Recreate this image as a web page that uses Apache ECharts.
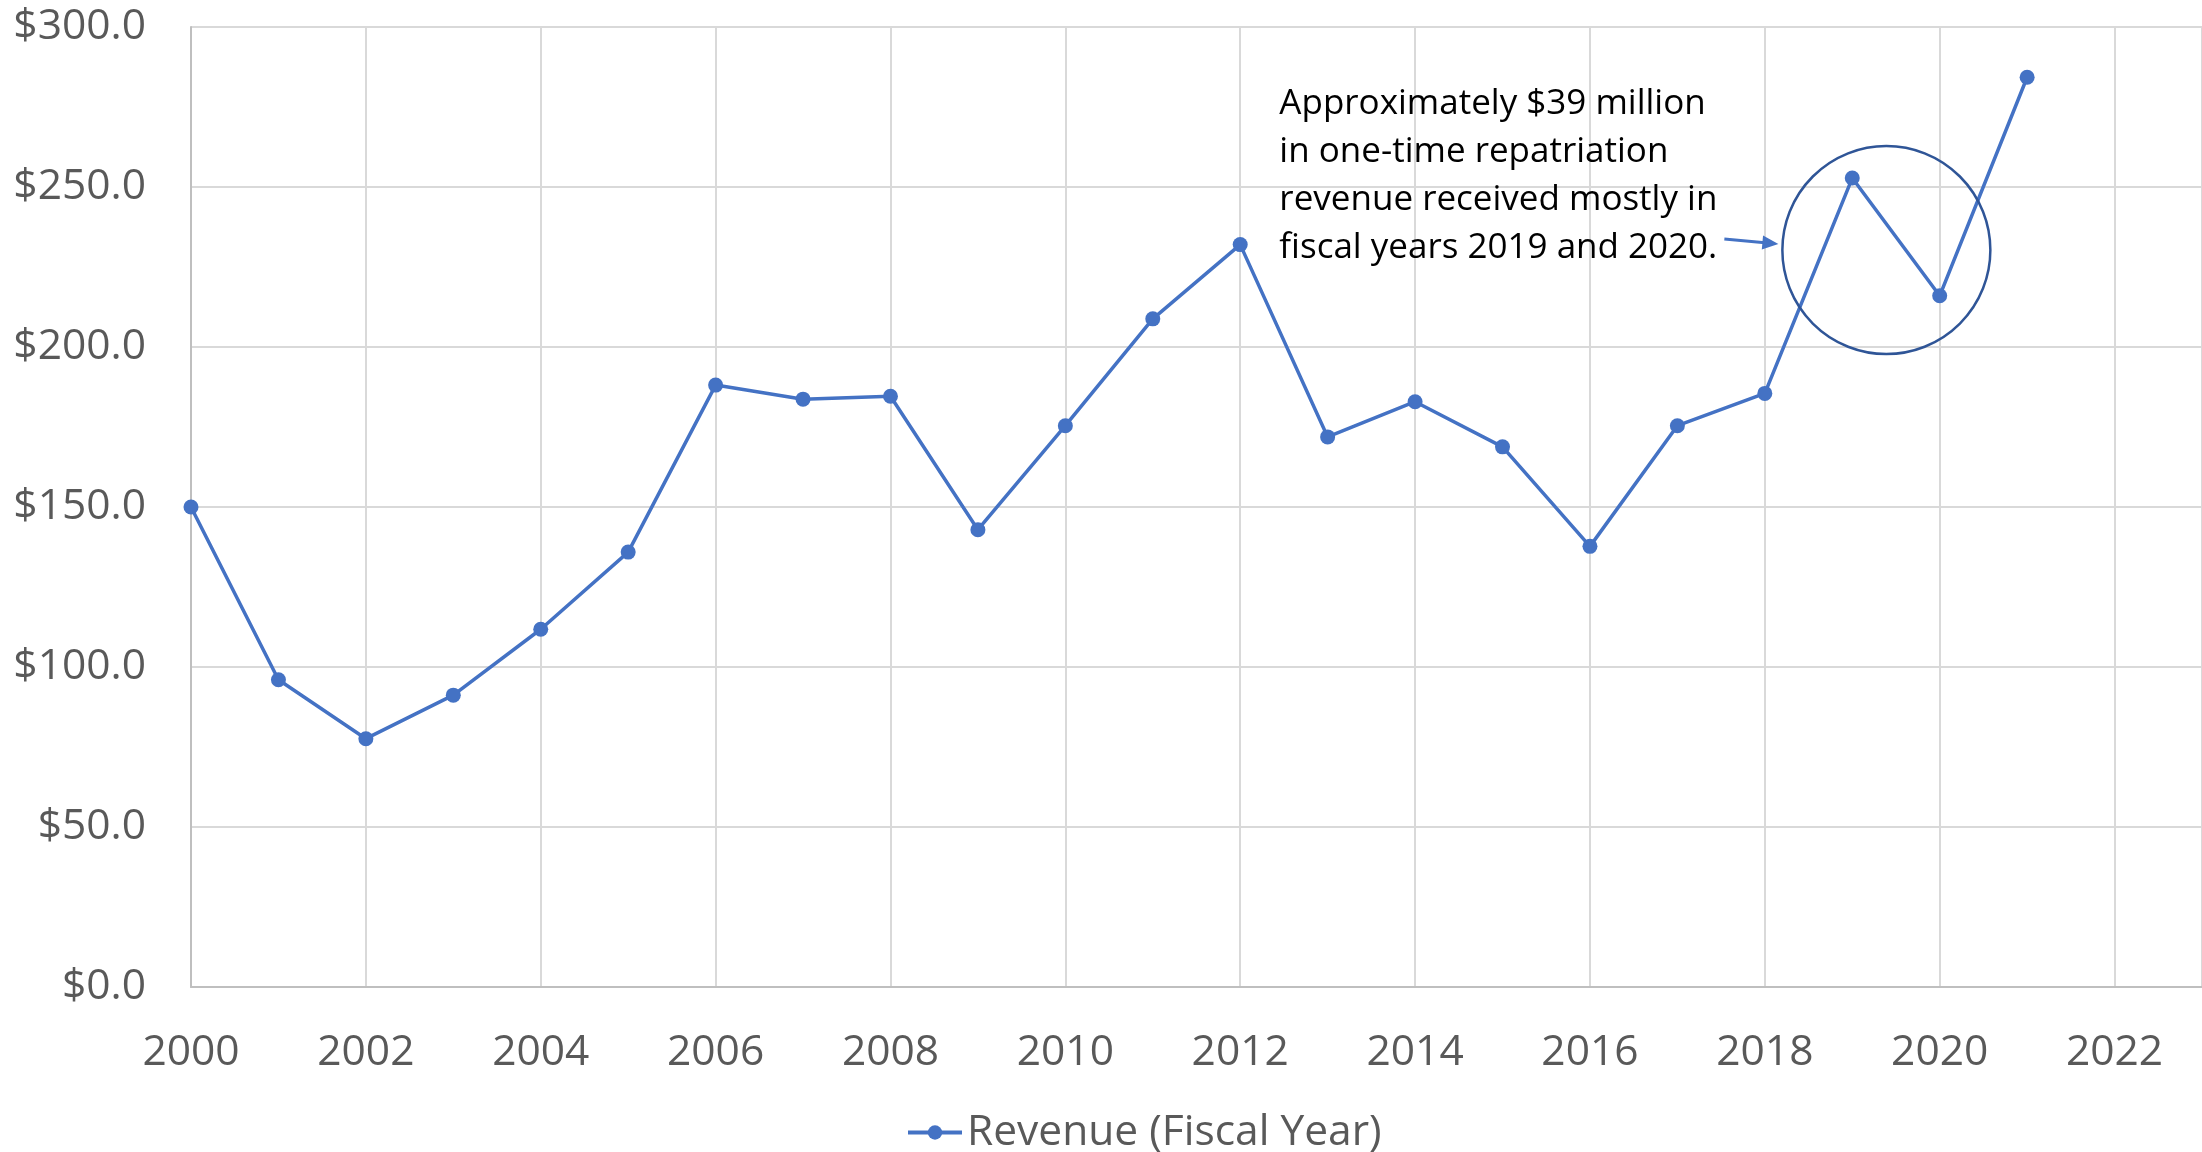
<!DOCTYPE html>
<html>
<head>
<meta charset="utf-8">
<script src="https://cdn.jsdelivr.net/npm/echarts@6/dist/echarts.min.js"></script>
<style>
  html, body { margin: 0; padding: 0; background: #fff; }
  #main { width: 2202px; height: 1152px; }
</style>
</head>
<body>
<div id="main"></div>
<script>
// fiscal years and revenue ($ millions)
var years = [2000, 2001, 2002, 2003, 2004, 2005, 2006, 2007, 2008, 2009, 2010,
             2011, 2012, 2013, 2014, 2015, 2016, 2017, 2018, 2019, 2020, 2021];
var revenue = [150.0, 96.0, 77.6, 91.2, 111.8, 135.9, 188.1, 183.7, 184.6, 142.9, 175.4,
               208.8, 232.0, 171.9, 182.9, 168.8, 137.7, 175.4, 185.5, 252.8, 216.0, 284.3];
var seriesName = 'Revenue (Fiscal Year)';
var noteLines = [
  'Approximately $39 million',
  'in one-time repatriation',
  'revenue received mostly in',
  'fiscal years 2019 and 2020.'
];

var FONT = '"Open Sans", "Noto Sans", sans-serif';
var GREY = '#595959';
var BLUE = '#4472C4';

var chart = echarts.init(document.getElementById('main'));

var pts = [];
for (var i = 0; i < years.length; i++) {
  pts.push([years[i], revenue[i]]);
}

var option = {
  animation: false,
  backgroundColor: '#fff',
  grid: { left: 191, right: -2, top: 27, bottom: 165, containLabel: false },
  xAxis: {
    type: 'value',
    min: 2000,
    max: 2023,
    interval: 2,
    axisLine: { show: true, lineStyle: { color: '#BFBFBF', width: 2 } },
    axisTick: { show: false },
    axisLabel: {
      color: GREY, fontSize: 42.5, fontFamily: FONT, margin: 44,
      showMaxLabel: false,
      formatter: function (v) { return v % 2 === 0 ? String(v) : ''; }
    },
    splitLine: { show: true, lineStyle: { color: '#D9D9D9', width: 2 } }
  },
  yAxis: {
    type: 'value',
    min: 0,
    max: 300,
    interval: 50,
    axisLine: { show: true, lineStyle: { color: '#BFBFBF', width: 2 } },
    axisTick: { show: false },
    axisLabel: {
      color: GREY, fontSize: 42.5, fontFamily: FONT, margin: 45,
      formatter: function (v) { return '$' + v.toFixed(1); }
    },
    splitLine: { show: true, lineStyle: { color: '#D9D9D9', width: 2 } }
  },
  legend: {
    top: 1111,
    left: 906,
    padding: 0,
    itemWidth: 54,
    itemHeight: 18,
    itemGap: 10,
    lineStyle: { width: 4 },
    textStyle: { color: GREY, fontSize: 42.5, fontFamily: FONT },
    data: [seriesName]
  },
  series: [{
    name: seriesName,
    type: 'line',
    data: pts,
    symbol: 'circle',
    symbolSize: 15,
    lineStyle: { color: BLUE, width: 3.5 },
    itemStyle: { color: BLUE }
  }]
};

chart.setOption(option);

// annotation: circle around the 2019/2020 points, arrow and note
var c = chart.convertToPixel({ gridIndex: 0 }, [2019.39, 230.3]);
var cx = c[0], cy = c[1], r = 104;
var ax1 = cx - 162, ay1 = cy - 11, ax2 = cx - 108, ay2 = cy - 6;
var ang = Math.atan2(ay2 - ay1, ax2 - ax1);
var hl = 16, hw = 7;
var head = [
  [ax2, ay2],
  [ax2 - hl * Math.cos(ang) + hw * Math.sin(ang), ay2 - hl * Math.sin(ang) - hw * Math.cos(ang)],
  [ax2 - hl * Math.cos(ang) - hw * Math.sin(ang), ay2 - hl * Math.sin(ang) + hw * Math.cos(ang)]
];

chart.setOption({
  graphic: [
    {
      type: 'circle',
      shape: { cx: cx, cy: cy, r: r },
      style: { fill: 'none', stroke: '#2F5597', lineWidth: 2.5 },
      z: 100
    },
    {
      type: 'line',
      shape: { x1: ax1, y1: ay1, x2: head[0][0] - 8 * Math.cos(ang), y2: head[0][1] - 8 * Math.sin(ang) },
      style: { stroke: BLUE, lineWidth: 3 },
      z: 100
    },
    {
      type: 'polygon',
      shape: { points: head },
      style: { fill: BLUE },
      z: 100
    },
    {
      type: 'text',
      left: cx - 607,
      top: cy - 170,
      style: {
        text: noteLines.join('\n'),
        font: '35px ' + FONT,
        fill: '#000',
        lineHeight: 48
      },
      z: 100
    }
  ]
});
</script>
</body>
</html>
